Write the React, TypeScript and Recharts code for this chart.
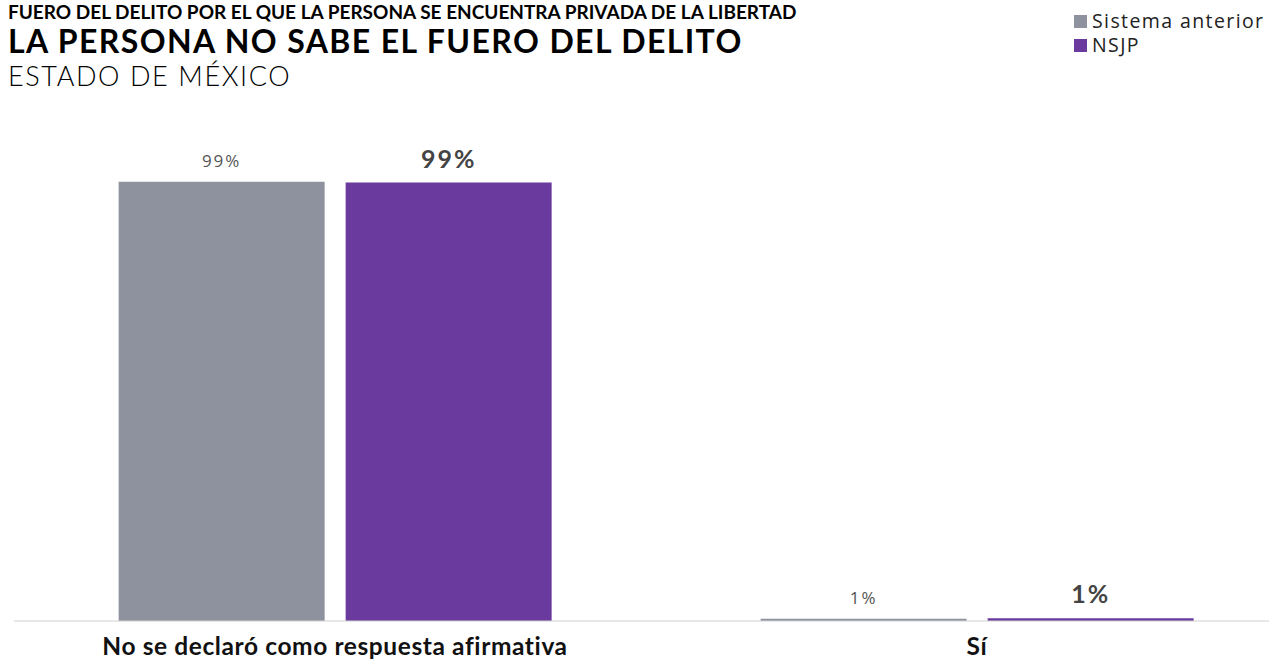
import React from 'react';
import { BarChart, Bar, XAxis, YAxis, LabelList } from 'recharts';

const categories = ['No se declaró como respuesta afirmativa', 'Sí'];
const sistemaAnterior = [99.4, 0.5];
const nsjp = [99.2, 0.6];

const GRAY = '#8e929e';
const PURPLE = '#6a3a9f';

const data = categories.map((name, i) => ({
    name,
    anterior: sistemaAnterior[i],
    nsjp: nsjp[i],
}));

const pct = (v: any) => `${Math.round(Number(v))}%`;

const CategoryTick = ({ x, y, payload }: any) => (
    <text
        x={x}
        y={y + 26}
        textAnchor="middle"
        fontFamily="Lato, sans-serif"
        fontWeight={700}
        fontSize={24.5}
        letterSpacing={0.6}
        fill="#111"
    >
        {payload.value}
    </text>
);

const legendItems = [
    { label: 'Sistema anterior', color: GRAY },
    { label: 'NSJP', color: PURPLE },
];

export default function App() {
    return (
        <div style={{ position: 'absolute', left: 0, top: 0, width: 1269, height: 660, overflow: 'hidden', background: '#fff' }}>
            {/* titles */}
            <div style={{ position: 'absolute', left: 8, top: 0, fontFamily: 'Lato, sans-serif', fontSize: 19, fontWeight: 700, whiteSpace: 'nowrap', color: '#000' }}>
                FUERO DEL DELITO POR EL QUE LA PERSONA SE ENCUENTRA PRIVADA DE LA LIBERTAD
            </div>
            <div style={{ position: 'absolute', left: 8, top: 21, fontFamily: 'Lato, sans-serif', fontSize: 32, fontWeight: 700, letterSpacing: 1.4, whiteSpace: 'nowrap', color: '#000' }}>
                LA PERSONA NO SABE EL FUERO DEL DELITO
            </div>
            <div style={{ position: 'absolute', left: 8, top: 59, fontFamily: 'Lato, sans-serif', fontSize: 27, fontWeight: 300, letterSpacing: 1.6, whiteSpace: 'nowrap', color: '#000' }}>
                ESTADO DE MÉXICO
            </div>

            {/* legend */}
            <div style={{ position: 'absolute', left: 1074, top: 9, fontFamily: '"Open Sans", sans-serif', fontSize: 19.5, letterSpacing: 1.4, color: '#222', lineHeight: '24px', whiteSpace: 'nowrap' }}>
                {legendItems.map((item) => (
                    <div key={item.label} style={{ display: 'flex', alignItems: 'center', gap: 5, height: 24 }}>
                        <span style={{ width: 13, height: 13, background: item.color, display: 'inline-block' }} />
                        <span>{item.label}</span>
                    </div>
                ))}
            </div>

            <BarChart
                width={1300}
                height={660}
                data={data}
                margin={{ top: 179, left: 14, right: 2, bottom: 0 }}
                barCategoryGap="16.3%"
                barGap={21}
                style={{ position: 'absolute', left: 0, top: 0 }}
            >
                <YAxis hide domain={[0, 100]} />
                <XAxis
                    dataKey="name"
                    height={39}
                    axisLine={{ stroke: '#d0d0d0' }}
                    tickLine={false}
                    tick={<CategoryTick />}
                    interval={0}
                />
                <Bar dataKey="anterior" name="Sistema anterior" fill={GRAY} isAnimationActive={false}>
                    <LabelList
                        dataKey="anterior"
                        position="top"
                        offset={15}
                        formatter={pct}
                        style={{ fontFamily: '"Open Sans", sans-serif', fontSize: 17, letterSpacing: 2, fill: '#555' }}
                    />
                </Bar>
                <Bar dataKey="nsjp" name="NSJP" fill={PURPLE} isAnimationActive={false}>
                    <LabelList
                        dataKey="nsjp"
                        position="top"
                        offset={15}
                        formatter={pct}
                        style={{ fontFamily: 'Lato, sans-serif', fontSize: 25, fontWeight: 700, letterSpacing: 2, fill: '#444' }}
                    />
                </Bar>
            </BarChart>
        </div>
    );
}
